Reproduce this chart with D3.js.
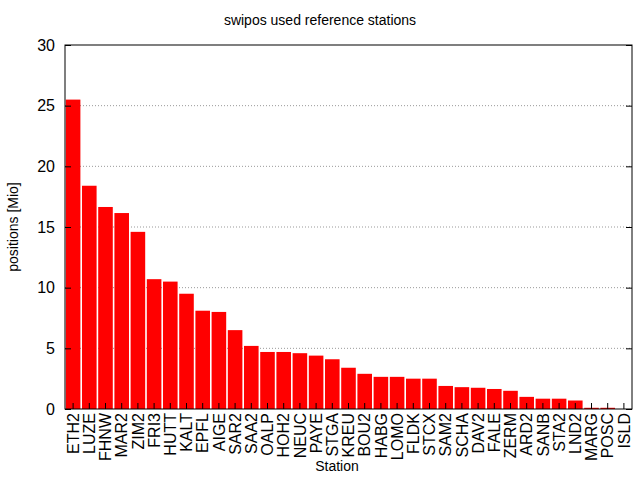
<!DOCTYPE html>
<html><head><meta charset="utf-8">
<script src="https://cdn.jsdelivr.net/npm/d3@7"></script>
<style>body{margin:0;background:#fff}svg{font-family:"Liberation Sans",Arial,sans-serif}</style>
</head><body><svg id="c" width="640" height="480"></svg>
<script>
const stations=["ETH2","LUZE","FHNW","MAR2","ZIM2","FRI3","HUTT","KALT","EPFL","AIGE","SAR2","SAA2","OALP","HOH2","NEUC","PAYE","STGA","KREU","BOU2","HABG","LOMO","FLDK","STCX","SAM2","SCHA","DAV2","FALE","ZERM","ARD2","SANB","STA2","LND2","MARG","POSC","ISLD"];
const positions=[25.5,18.4,16.65,16.15,14.6,10.7,10.5,9.5,8.1,8.0,6.5,5.2,4.7,4.7,4.6,4.4,4.1,3.4,2.9,2.65,2.65,2.5,2.5,1.9,1.8,1.75,1.65,1.5,1.0,0.85,0.85,0.7,0.1,0.1,0];
const yTicks=[0,5,10,15,20,25,30];
const svg=d3.select("#c");
const L=65,R=632,T=45,B=409;
const x=d3.scaleBand().domain(stations).range([L,R]).paddingInner(0.1).paddingOuter(0.05);
const y=d3.scaleLinear().domain([0,30]).range([B,T]);
// grid
svg.append("g").selectAll("line").data(yTicks.slice(1,-1)).join("line")
 .attr("x1",L).attr("x2",R).attr("y1",d=>y(d)).attr("y2",d=>y(d))
 .attr("stroke","#999").attr("stroke-dasharray","1,2").attr("stroke-width",1);
svg.append("g").selectAll("rect").data(stations).join("rect")
 .attr("x",d=>x(d)).attr("width",x.bandwidth())
 .attr("y",(d,i)=>y(positions[i])).attr("height",(d,i)=>B-y(positions[i])).attr("fill","#ff0000");
svg.append("rect").attr("x",L).attr("y",T).attr("width",R-L).attr("height",B-T).attr("fill","none").attr("stroke","#000");
// y axis
const ya=svg.append("g").attr("transform",`translate(${L},0)`).call(d3.axisLeft(y).tickValues(yTicks).tickSize(-6).tickPadding(10));
ya.select(".domain").remove();
ya.selectAll("text").attr("font-size",16).attr("font-family","Liberation Sans, Arial");
const yr=svg.append("g").attr("transform",`translate(${R},0)`).call(d3.axisRight(y).tickValues(yTicks).tickSize(-6).tickFormat(""));
yr.select(".domain").remove();
// x axis
const xa=svg.append("g").attr("transform",`translate(0,${B})`).call(d3.axisBottom(x).tickSize(-6).tickPadding(0));
xa.select(".domain").remove();
xa.selectAll("text").attr("font-size",16).attr("font-family","Liberation Sans, Arial")
 .attr("transform","rotate(-90)").attr("text-anchor","end").attr("x",-4).attr("y",0).attr("dy","0.35em");
svg.append("text").attr("x",320).attr("y",25).attr("text-anchor","middle").attr("font-size",14).text("swipos used reference stations");
svg.append("text").attr("transform","translate(18,227) rotate(-90)").attr("text-anchor","middle").attr("font-size",14).text("positions [Mio]");
svg.append("text").attr("x",337).attr("y",471).attr("text-anchor","middle").attr("font-size",14).text("Station");
</script></body></html>
